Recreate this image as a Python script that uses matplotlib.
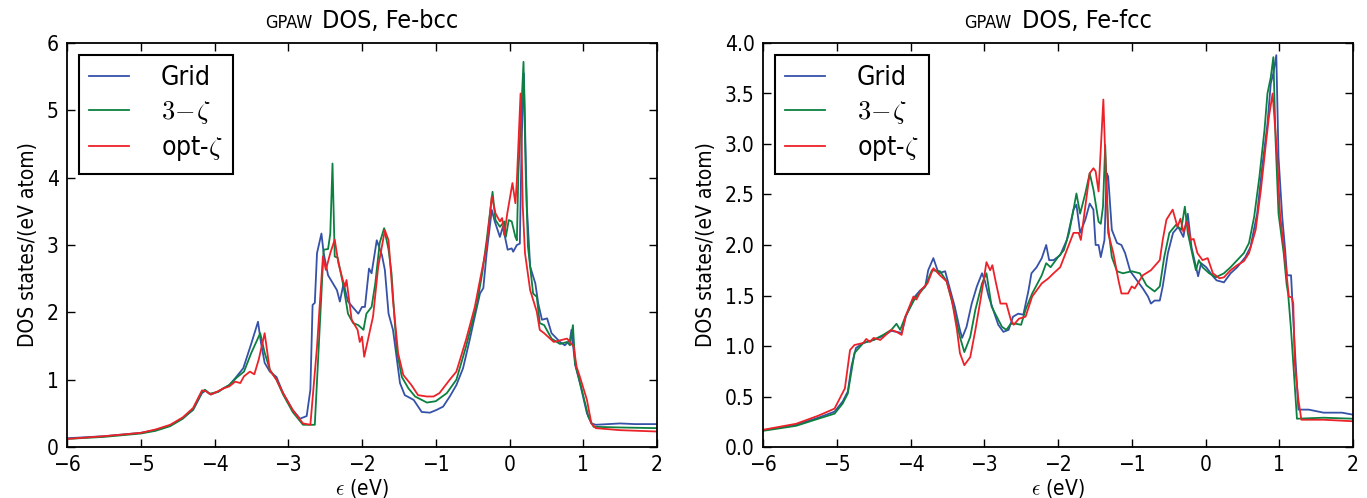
import matplotlib
matplotlib.use("Agg")
import matplotlib.pyplot as plt
from matplotlib.offsetbox import TextArea, HPacker, AnchoredOffsetbox

plt.rcParams["font.family"] = ["DejaVu Sans"]
plt.rcParams["font.stretch"] = "condensed"
plt.rcParams["mathtext.fontset"] = "cm"

# ---- Fe-bcc ----
BCC_GRID_E = [-6.0, -5.5, -5.0, -4.8, -4.6, -4.43, -4.29, -4.17, -4.12, -4.05, -3.95, -3.88, -3.80, -3.72,
              -3.61, -3.50, -3.41, -3.37, -3.32, -3.25, -3.16, -3.07, -2.94, -2.84, -2.75, -2.70, -2.67,
              -2.64, -2.61, -2.55, -2.52, -2.46, -2.34, -2.30, -2.25, -2.19, -2.05, -2.00, -1.96, -1.905,
              -1.87, -1.80, -1.73, -1.69, -1.64, -1.58, -1.485, -1.42, -1.30, -1.19, -1.08, -0.99, -0.90,
              -0.81, -0.72, -0.63, -0.54, -0.47, -0.40, -0.355, -0.31, -0.24, -0.20, -0.13, -0.09, -0.025,
              0.03, 0.05, 0.10, 0.14, 0.165, 0.195, 0.235, 0.28, 0.35, 0.39, 0.44, 0.51, 0.57, 0.685, 0.75,
              0.82, 0.84, 0.89, 0.955, 1.05, 1.11, 1.17, 1.5, 1.7, 2.0]
BCC_GRID = [0.13, 0.16, 0.21, 0.25, 0.32, 0.43, 0.55, 0.80, 0.84, 0.78, 0.82, 0.87, 0.92, 1.02,
            1.17, 1.54, 1.86, 1.55, 1.25, 1.12, 1.04, 0.80, 0.55, 0.42, 0.46, 0.85, 2.11,
            2.14, 2.88, 3.17, 2.88, 2.55, 2.33, 2.16, 2.43, 2.16, 1.98, 2.08, 2.08, 2.65,
            2.58, 3.07, 2.85, 2.63, 1.98, 1.74, 0.95, 0.77, 0.70, 0.52, 0.51, 0.55, 0.60,
            0.75, 0.92, 1.17, 1.59, 1.94, 2.28, 2.36, 2.88, 3.52, 3.35, 3.12, 3.27, 2.93,
            2.95, 2.90, 3.00, 3.02, 4.56, 5.55, 3.57, 2.68, 2.43, 2.13, 1.89, 1.91, 1.69, 1.56, 1.51,
            1.59, 1.74, 1.22, 0.95, 0.50, 0.35, 0.33, 0.35, 0.34, 0.34]

BCC_3Z_E = [-6.0, -5.5, -5.0, -4.8, -4.6, -4.43, -4.29, -4.17, -4.13, -4.07, -3.95, -3.88, -3.80, -3.70,
            -3.60, -3.50, -3.38, -3.32, -3.25, -3.16, -3.07, -2.94, -2.80, -2.70, -2.64, -2.52, -2.46,
            -2.43, -2.40, -2.37, -2.33, -2.25, -2.19, -2.12, -2.05, -1.98, -1.94, -1.87, -1.82, -1.76,
            -1.70, -1.64, -1.60, -1.53, -1.46, -1.37, -1.28, -1.12, -1.0, -0.95, -0.85, -0.72, -0.59,
            -0.44, -0.37, -0.31, -0.23, -0.19, -0.13, -0.07, -0.05, -0.01, 0.03, 0.08, 0.10, 0.12, 0.19,
            0.22, 0.25, 0.32, 0.37, 0.41, 0.47, 0.57, 0.685, 0.78, 0.82, 0.86, 0.89, 0.98, 1.07, 1.14,
            1.5, 2.0]
BCC_3Z = [0.12, 0.15, 0.20, 0.24, 0.31, 0.42, 0.56, 0.82, 0.85, 0.79, 0.82, 0.87, 0.92, 1.03,
          1.12, 1.40, 1.69, 1.40, 1.15, 1.00, 0.78, 0.52, 0.33, 0.33, 0.33, 2.93, 2.94,
          3.17, 4.21, 2.83, 2.81, 2.38, 1.98, 1.84, 1.81, 1.74, 1.98, 2.08, 2.43, 3.03,
          3.25, 2.93, 2.58, 1.44, 1.04, 0.87, 0.75, 0.66, 0.68, 0.72, 0.80, 1.00, 1.49,
          2.13, 2.58, 3.07, 3.79, 3.37, 3.27, 3.35, 3.12, 3.37, 3.35, 3.12, 3.07, 4.06, 5.72,
          4.06, 2.98, 2.28, 2.23, 1.84, 1.81, 1.61, 1.53, 1.56, 1.51, 1.81, 1.24, 0.85, 0.45, 0.30,
          0.29, 0.28]

BCC_OPT_E = [-6.0, -5.5, -5.0, -4.8, -4.6, -4.43, -4.29, -4.17, -4.12, -4.05, -3.95, -3.88, -3.80, -3.72,
             -3.65, -3.60, -3.52, -3.46, -3.40, -3.32, -3.25, -3.16, -3.07, -2.94, -2.80, -2.70, -2.61,
             -2.53, -2.49, -2.43, -2.37, -2.32, -2.26, -2.23, -2.21, -2.14, -2.06, -2.03, -2.00, -1.97,
             -1.92, -1.85, -1.78, -1.69, -1.64, -1.58, -1.51, -1.44, -1.33, -1.24, -1.12, -1.03, -0.95,
             -0.81, -0.72, -0.59, -0.47, -0.40, -0.31, -0.24, -0.19, -0.13, -0.10, -0.07, -0.03, 0.04,
             0.08, 0.10, 0.15, 0.18, 0.21, 0.28, 0.35, 0.37, 0.41, 0.47, 0.60, 0.78, 0.82, 0.87, 0.91,
             0.955, 1.05, 1.11, 1.17, 1.5, 2.0]
BCC_OPT = [0.12, 0.16, 0.21, 0.26, 0.33, 0.44, 0.58, 0.84, 0.83, 0.78, 0.83, 0.87, 0.90, 0.97,
           0.95, 1.05, 1.12, 1.08, 1.30, 1.69, 1.14, 1.00, 0.80, 0.55, 0.35, 0.33, 1.49,
           2.83, 2.63, 2.88, 3.08, 2.73, 2.48, 2.38, 2.48, 1.89, 1.74, 1.56, 1.64, 1.34,
           1.59, 1.94, 2.68, 3.22, 3.07, 2.18, 1.39, 1.07, 0.92, 0.77, 0.75, 0.75, 0.80,
           1.00, 1.12, 1.59, 2.08, 2.48, 2.98, 3.72, 3.47, 3.35, 3.40, 3.15, 3.47, 3.92,
           3.62, 3.96, 5.25, 3.57, 2.88, 2.33, 2.08, 2.01, 1.74, 1.69, 1.56, 1.61, 1.56, 1.49, 1.19,
           1.04, 0.70, 0.35, 0.28, 0.25, 0.23]

# ---- Fe-fcc ----
FCC_GRID_E = [-6.0, -5.55, -5.25, -5.03, -4.92, -4.85, -4.80, -4.74, -4.64, -4.50, -4.37, -4.26, -4.19,
              -4.12, -4.06, -3.94, -3.87, -3.80, -3.76, -3.69, -3.62, -3.53, -3.46, -3.40, -3.33, -3.30,
              -3.24, -3.17, -3.10, -3.03, -2.99, -2.94, -2.88, -2.81, -2.74, -2.67, -2.61, -2.54, -2.47,
              -2.40, -2.36, -2.29, -2.22, -2.16, -2.12, -2.06, -1.97, -1.88, -1.79, -1.75, -1.70, -1.63,
              -1.57, -1.52, -1.49, -1.45, -1.42, -1.37, -1.34, -1.32, -1.27, -1.20, -1.14, -1.09, -1.02,
              -0.93, -0.85, -0.78, -0.74, -0.69, -0.62, -0.58, -0.51, -0.44, -0.37, -0.30, -0.27, -0.24,
              -0.19, -0.15, -0.10, -0.06, 0.01, 0.09, 0.15, 0.25, 0.34, 0.43, 0.54, 0.61, 0.70, 0.77,
              0.84, 0.885, 0.92, 0.96, 0.99, 1.04, 1.08, 1.105, 1.16, 1.21, 1.26, 1.4, 1.6, 1.85, 2.0]
FCC_GRID = [0.165, 0.22, 0.29, 0.35, 0.45, 0.55, 0.80, 0.98, 1.03, 1.06, 1.10, 1.15, 1.14,
            1.13, 1.30, 1.49, 1.55, 1.59, 1.75, 1.87, 1.72, 1.74, 1.55, 1.39, 1.16, 1.08,
            1.19, 1.42, 1.59, 1.72, 1.64, 1.49, 1.36, 1.21, 1.14, 1.16, 1.29, 1.32, 1.31,
            1.55, 1.72, 1.78, 1.87, 2.00, 1.85, 1.85, 1.90, 2.05, 2.35, 2.40, 2.12, 2.25,
            2.41, 2.35, 2.00, 2.00, 1.88, 2.05, 2.71, 2.68, 2.15, 2.02, 2.00, 1.92, 1.74,
            1.65, 1.57, 1.49, 1.42, 1.45, 1.45, 1.59, 1.92, 2.12, 2.18, 2.08, 2.20, 2.31,
            1.98, 1.85, 1.69, 1.82, 1.78, 1.70, 1.65, 1.63, 1.72, 1.78, 1.88, 1.98, 2.31, 2.78,
            3.20, 3.60, 3.70, 3.88, 2.87, 2.28, 1.95, 1.70, 1.70, 0.99, 0.37, 0.37, 0.34, 0.34, 0.32]

FCC_3Z_E = [-6.0, -5.55, -5.25, -5.03, -4.92, -4.85, -4.76, -4.64, -4.50, -4.37, -4.26, -4.19, -4.14,
            -4.07, -3.94, -3.80, -3.71, -3.60, -3.51, -3.42, -3.33, -3.27, -3.19, -3.12, -3.03, -2.97,
            -2.90, -2.83, -2.76, -2.70, -2.64, -2.57, -2.50, -2.44, -2.35, -2.22, -2.16, -2.10, -2.01,
            -1.92, -1.85, -1.79, -1.75, -1.70, -1.63, -1.57, -1.52, -1.45, -1.42, -1.39, -1.36, -1.32,
            -1.27, -1.20, -1.12, -1.00, -0.89, -0.80, -0.69, -0.62, -0.56, -0.49, -0.40, -0.33, -0.28,
            -0.24, -0.17, -0.13, -0.09, -0.04, 0.05, 0.14, 0.25, 0.34, 0.43, 0.52, 0.59, 0.66, 0.73,
            0.80, 0.84, 0.885, 0.92, 0.95, 0.99, 1.06, 1.10, 1.12, 1.16, 1.24, 1.6, 2.0]
FCC_3Z = [0.16, 0.21, 0.28, 0.33, 0.43, 0.53, 0.93, 1.03, 1.06, 1.11, 1.16, 1.22, 1.16,
          1.29, 1.47, 1.59, 1.75, 1.74, 1.64, 1.39, 1.09, 0.94, 1.09, 1.36, 1.62, 1.72,
          1.39, 1.29, 1.19, 1.16, 1.22, 1.22, 1.21, 1.36, 1.52, 1.70, 1.82, 1.78, 1.87,
          1.95, 2.12, 2.35, 2.51, 2.31, 2.51, 2.71, 2.55, 2.23, 2.21, 2.38, 2.99, 2.18,
          1.88, 1.74, 1.72, 1.74, 1.72, 1.60, 1.54, 1.59, 1.88, 2.12, 2.20, 2.15, 2.38,
          2.12, 1.88, 1.75, 1.85, 1.78, 1.72, 1.68, 1.72, 1.78, 1.85, 1.92, 2.02, 2.28, 2.67,
          3.14, 3.50, 3.66, 3.86, 3.04, 2.31, 1.92, 1.61, 1.52, 1.16, 0.28, 0.29, 0.28]

FCC_OPT_E = [-6.0, -5.55, -5.25, -5.03, -4.89, -4.82, -4.76, -4.64, -4.60, -4.55, -4.50, -4.41, -4.26,
             -4.19, -4.12, -4.07, -3.96, -3.92, -3.85, -3.77, -3.69, -3.60, -3.51, -3.44, -3.37, -3.33,
             -3.27, -3.19, -3.12, -3.05, -3.00, -2.97, -2.92, -2.89, -2.84, -2.78, -2.70, -2.64, -2.60,
             -2.53, -2.44, -2.35, -2.22, -2.13, -2.06, -1.97, -1.88, -1.79, -1.72, -1.69, -1.63, -1.57,
             -1.52, -1.49, -1.45, -1.385, -1.35, -1.32, -1.25, -1.18, -1.14, -1.05, -1.00, -0.96, -0.85,
             -0.74, -0.62, -0.58, -0.53, -0.445, -0.38, -0.34, -0.30, -0.25, -0.20, -0.16, -0.11, -0.04,
             0.03, 0.10, 0.19, 0.25, 0.34, 0.43, 0.52, 0.59, 0.68, 0.75, 0.82, 0.86, 0.91, 0.97, 1.01,
             1.08, 1.13, 1.17, 1.19, 1.21, 1.26, 1.30, 1.6, 2.0]
FCC_OPT = [0.17, 0.23, 0.31, 0.38, 0.58, 0.96, 1.01, 1.03, 1.07, 1.04, 1.08, 1.06, 1.16,
           1.14, 1.11, 1.29, 1.49, 1.46, 1.56, 1.62, 1.77, 1.70, 1.64, 1.46, 1.16, 0.93,
           0.81, 0.89, 1.16, 1.46, 1.69, 1.83, 1.75, 1.80, 1.62, 1.42, 1.42, 1.26, 1.21,
           1.27, 1.29, 1.49, 1.62, 1.67, 1.72, 1.78, 1.95, 2.12, 2.12, 2.05, 2.38, 2.71,
           2.76, 2.73, 2.53, 3.44, 2.68, 2.12, 1.92, 1.65, 1.52, 1.52, 1.59, 1.57, 1.70,
           1.75, 1.85, 2.05, 2.25, 2.35, 2.18, 2.26, 2.13, 2.23, 2.05, 2.06, 1.92, 1.85,
           1.87, 1.72, 1.67, 1.68, 1.75, 1.80, 1.84, 1.92, 2.15, 2.54, 3.01, 3.27, 3.50, 2.91, 2.31,
           1.85, 1.49, 1.48, 1.42, 0.83, 0.465, 0.27, 0.27, 0.255]

LABELS = ["Grid", r"$3\!-\!\zeta$", r"opt-$\zeta$"]
COLORS = ["#3651a8", "#0c8040", "#ec2229"]

PANELS = [
    ("Fe-bcc", [(BCC_GRID_E, BCC_GRID), (BCC_3Z_E, BCC_3Z), (BCC_OPT_E, BCC_OPT)],
     (0, 6), list(range(0, 7)), "{:.0f}"),
    ("Fe-fcc", [(FCC_GRID_E, FCC_GRID), (FCC_3Z_E, FCC_3Z), (FCC_OPT_E, FCC_OPT)],
     (0, 4), [i * 0.5 for i in range(9)], "{:.1f}"),
]

fig = plt.figure(figsize=(13.67, 4.98), dpi=100)
lefts = [67 / 1367, 763 / 1367]

for left, (name, curves, ylim, yticks, yfmt) in zip(lefts, PANELS):
    ax = fig.add_axes([left, 51 / 498, 590 / 1367, 404 / 498])
    for (xs, ys), label, color in zip(curves, LABELS, COLORS):
        ax.plot(xs, ys, color=color, linewidth=1.3, label=label)

    ax.set_xlim(-6, 2)
    ax.set_ylim(*ylim)
    ax.set_xticks(range(-6, 3))
    ax.set_xticklabels([str(v).replace("-", "\u2212") for v in range(-6, 3)])
    ax.set_yticks(yticks)
    ax.set_yticklabels([yfmt.format(v) for v in yticks])
    ax.tick_params(direction="in", top=True, right=True, length=6, width=1,
                   labelsize=15, pad=6)
    for spine in ax.spines.values():
        spine.set_linewidth(1.3)
    ax.set_xlabel(r"$\epsilon$ (eV)", fontsize=15, labelpad=1)
    ax.set_ylabel("DOS states/(eV atom)", fontsize=15, labelpad=6)

    leg = ax.legend(loc="upper left", fontsize=19, handlelength=1.5, handletextpad=1.2,
                    labelspacing=0.3, borderaxespad=0.45, borderpad=0.4,
                    fancybox=False, framealpha=1)
    leg.get_frame().set_edgecolor("black")
    leg.get_frame().set_linewidth(1.5)

    title = HPacker(children=[TextArea("GPAW", textprops=dict(size=13)),
                              TextArea("DOS, " + name, textprops=dict(size=18))],
                    align="baseline", pad=0, sep=7)
    ax.add_artist(AnchoredOffsetbox(loc="lower center", child=title, pad=0, borderpad=0,
                                    frameon=False, bbox_to_anchor=(0.5, 1.025),
                                    bbox_transform=ax.transAxes))

fig.savefig("out.png", dpi=100)
